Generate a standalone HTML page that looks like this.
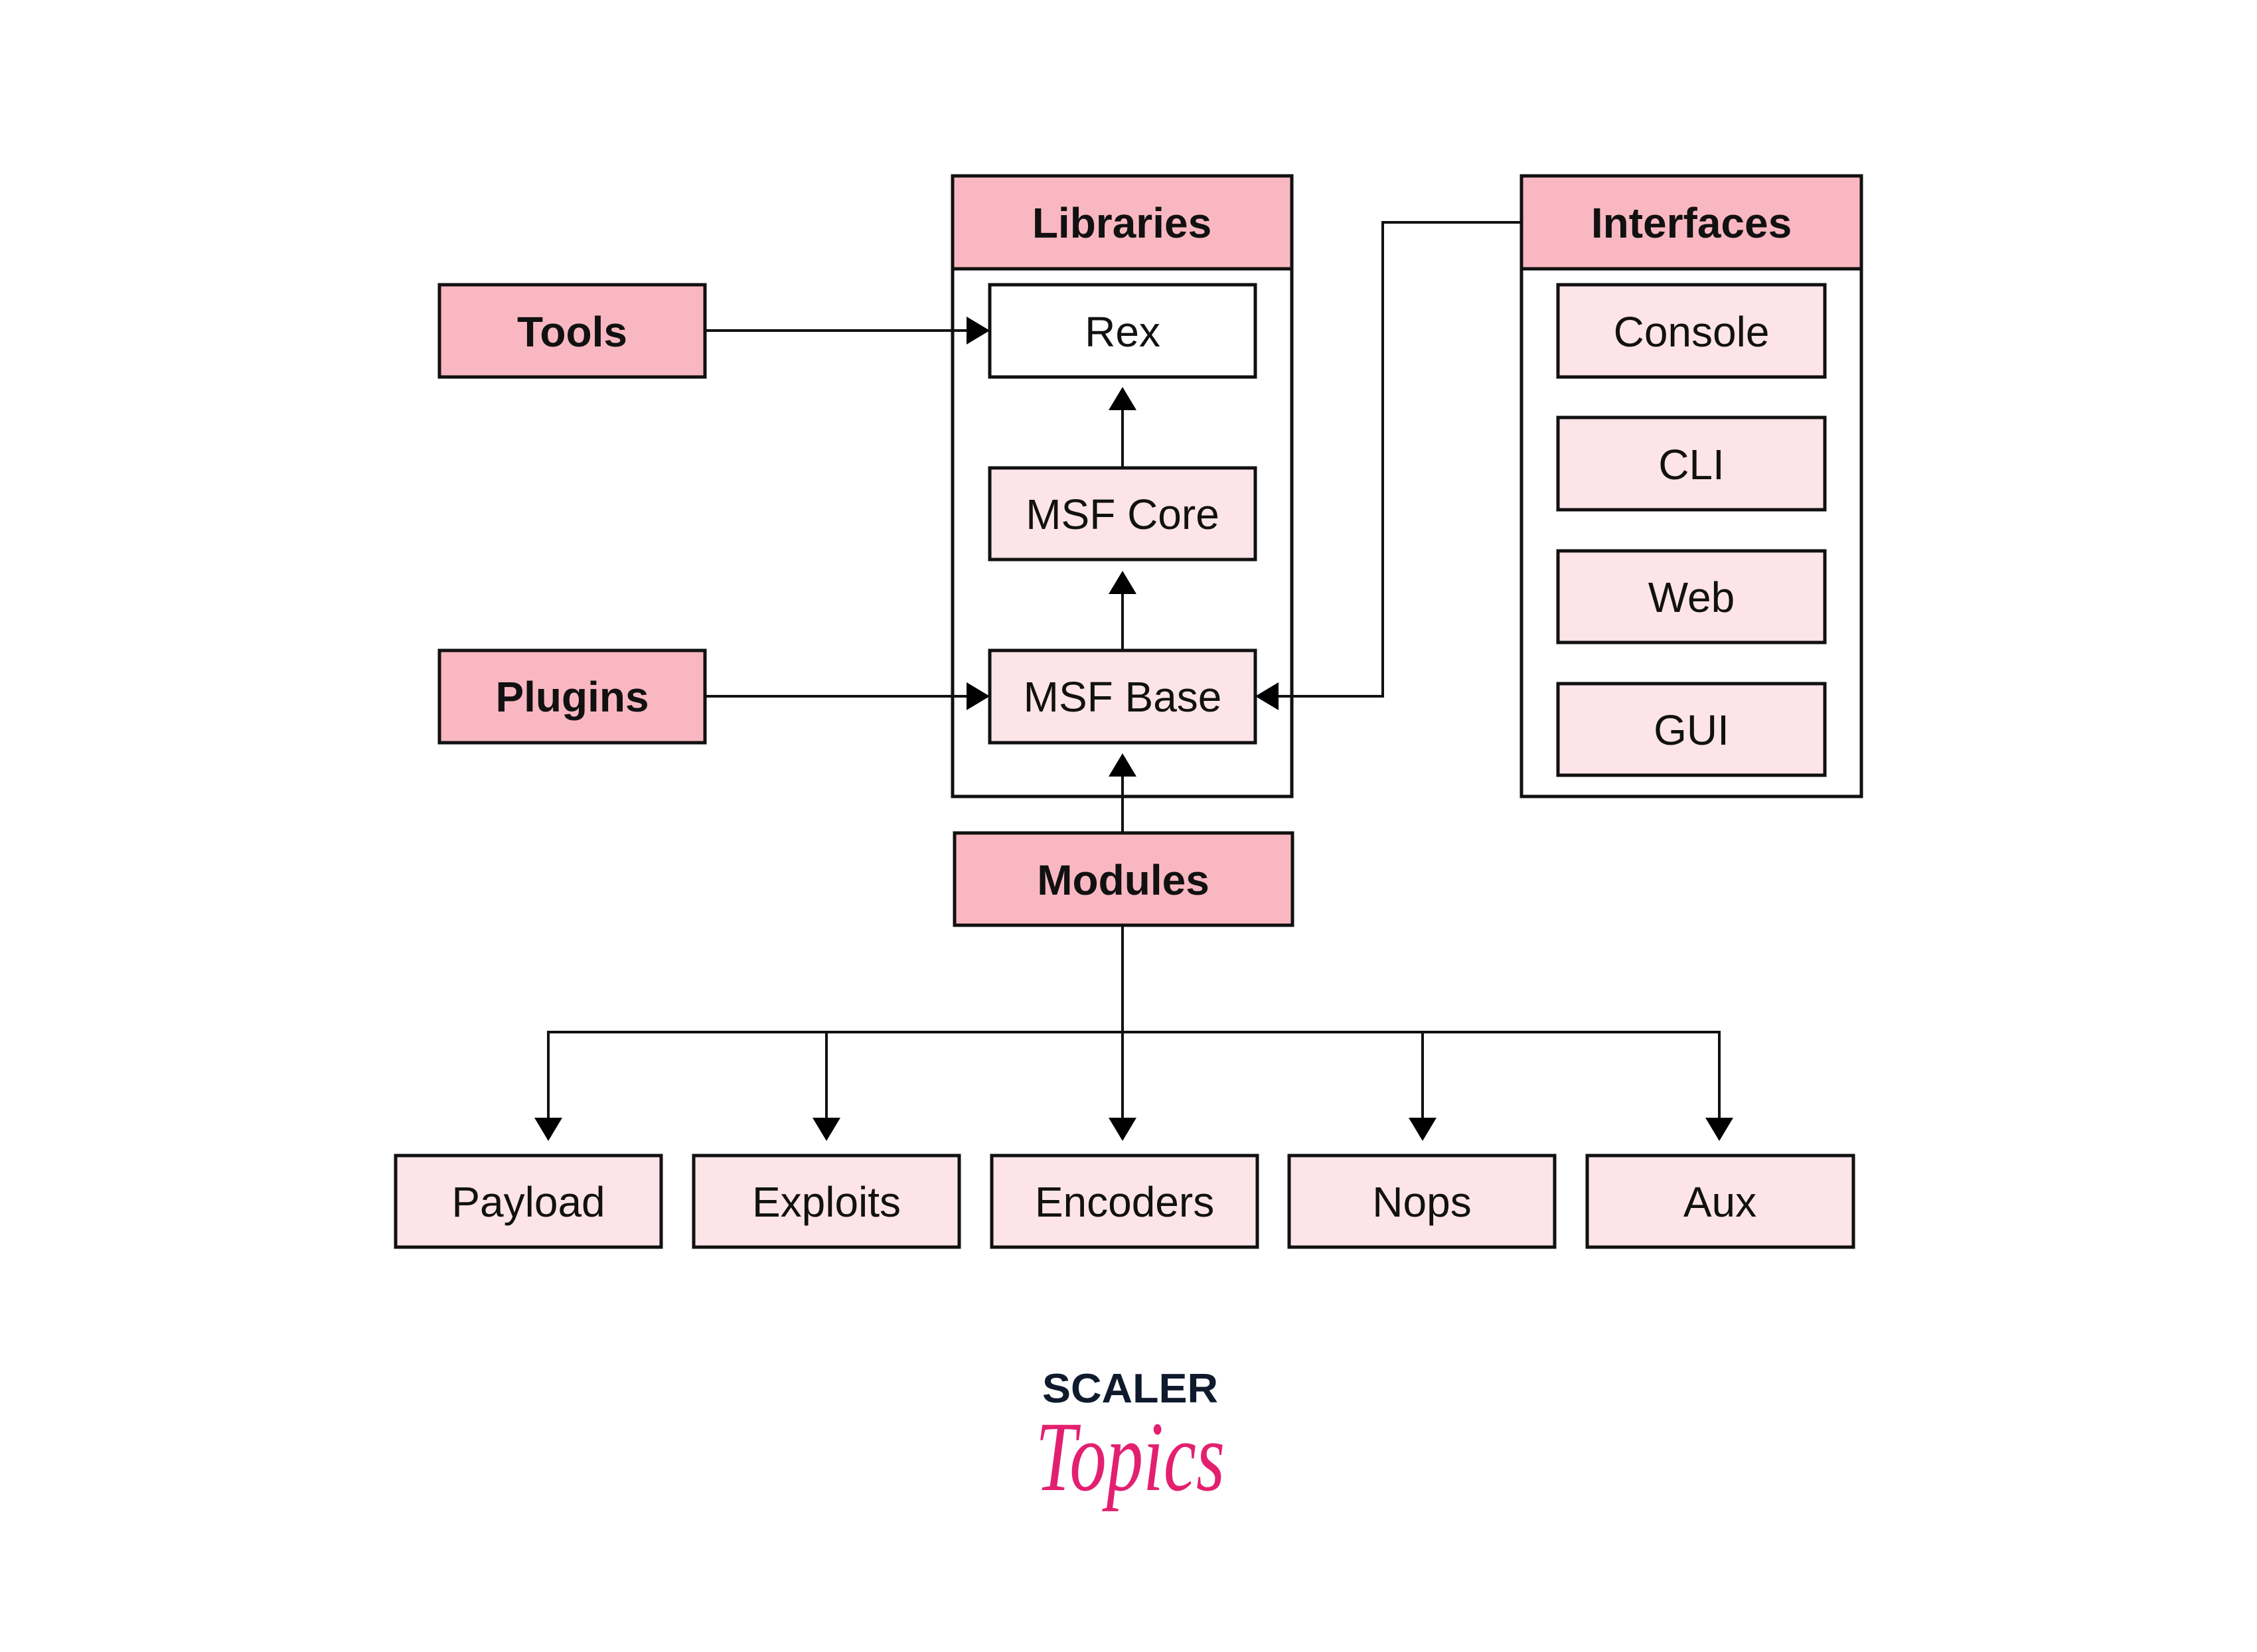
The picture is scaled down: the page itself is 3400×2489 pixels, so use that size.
<!DOCTYPE html>
<html><head><meta charset="utf-8"><style>
html,body{margin:0;padding:0;background:#fff;}
svg{display:block;}
text{font-family:"Liberation Sans",sans-serif;}
</style></head><body>
<svg width="3400" height="2489" viewBox="0 0 3400 2489" xmlns="http://www.w3.org/2000/svg">
<rect width="3400" height="2489" fill="#fff"/>
<g stroke="#111" stroke-width="5">
<rect x="1435" y="265" width="511" height="935" fill="#fff"/>
<rect x="1435" y="265" width="511" height="140" fill="#f9b8c1"/>
<rect x="2292" y="265" width="512" height="935" fill="#fff"/>
<rect x="2292" y="265" width="512" height="140" fill="#f9b8c1"/>
<rect x="662" y="429" width="400" height="139" fill="#f9b8c1"/>
<rect x="662" y="980" width="400" height="139" fill="#f9b8c1"/>
<rect x="1491" y="429" width="400" height="139" fill="#fff"/>
<rect x="1491" y="705" width="400" height="138" fill="#fde4e8"/>
<rect x="1491" y="980" width="400" height="139" fill="#fde4e8"/>
<rect x="2347" y="429" width="402" height="139" fill="#fde4e8"/>
<rect x="2347" y="629" width="402" height="139" fill="#fde4e8"/>
<rect x="2347" y="830" width="402" height="138" fill="#fde4e8"/>
<rect x="2347" y="1030" width="402" height="138" fill="#fde4e8"/>
<rect x="1438" y="1255" width="509" height="139" fill="#f9b8c1"/>
<rect x="596" y="1741" width="400" height="138" fill="#fde4e8"/>
<rect x="1045" y="1741" width="400" height="138" fill="#fde4e8"/>
<rect x="1494" y="1741" width="400" height="138" fill="#fde4e8"/>
<rect x="1942" y="1741" width="400" height="138" fill="#fde4e8"/>
<rect x="2391" y="1741" width="401" height="138" fill="#fde4e8"/>
</g>
<g stroke="#111" stroke-width="4" fill="none">
<line x1="1062" y1="498" x2="1460" y2="498"/>
<line x1="1062" y1="1049" x2="1460" y2="1049"/>
<line x1="1691" y1="705" x2="1691" y2="615"/>
<line x1="1691" y1="980" x2="1691" y2="890"/>
<line x1="1691" y1="1255" x2="1691" y2="1165"/>
<polyline points="2292,335 2083,335 2083,1049 1920,1049"/>
<line x1="1691" y1="1394" x2="1691" y2="1555"/>
<polyline points="826,1690 826,1555 2590,1555 2590,1690"/>
<line x1="1245" y1="1555" x2="1245" y2="1690"/>
<line x1="1691" y1="1555" x2="1691" y2="1690"/>
<line x1="2143" y1="1555" x2="2143" y2="1690"/>
</g>
<g fill="#000">
<polygon points="1491,498 1456,477 1456,519"/>
<polygon points="1491,1049 1456,1028 1456,1070"/>
<polygon points="1891,1049 1926,1028 1926,1070"/>
<polygon points="1691,583 1670,618 1712,618"/>
<polygon points="1691,860 1670,895 1712,895"/>
<polygon points="1691,1135 1670,1170 1712,1170"/>
<polygon points="826,1719 805,1684 847,1684"/>
<polygon points="1245,1719 1224,1684 1266,1684"/>
<polygon points="1691,1719 1670,1684 1712,1684"/>
<polygon points="2143,1719 2122,1684 2164,1684"/>
<polygon points="2590,1719 2569,1684 2611,1684"/>
</g>
<g font-size="64" text-anchor="middle" fill="#111">
<text x="1690" y="358" font-weight="bold">Libraries</text>
<text x="2548" y="358" font-weight="bold">Interfaces</text>
<text x="862" y="522" font-weight="bold">Tools</text>
<text x="862" y="1072" font-weight="bold">Plugins</text>
<text x="1692" y="1348" font-weight="bold">Modules</text>
<text x="1691" y="522">Rex</text>
<text x="1691" y="797">MSF Core</text>
<text x="1691" y="1072">MSF Base</text>
<text x="2548" y="522">Console</text>
<text x="2548" y="722">CLI</text>
<text x="2548" y="922">Web</text>
<text x="2548" y="1122">GUI</text>
<text x="796" y="1833">Payload</text>
<text x="1245" y="1833">Exploits</text>
<text x="1694" y="1833">Encoders</text>
<text x="2142" y="1833">Nops</text>
<text x="2591" y="1833">Aux</text>
</g>
<text x="1570" y="2113" font-size="62" font-weight="bold" fill="#0f1a2c" textLength="265" lengthAdjust="spacingAndGlyphs">SCALER</text>
<text x="1560" y="2245" style="font-family:'Liberation Serif',serif;font-style:italic;" font-size="150" fill="#e3206f" textLength="285" lengthAdjust="spacingAndGlyphs">Topics</text>
</svg>
</body></html>
